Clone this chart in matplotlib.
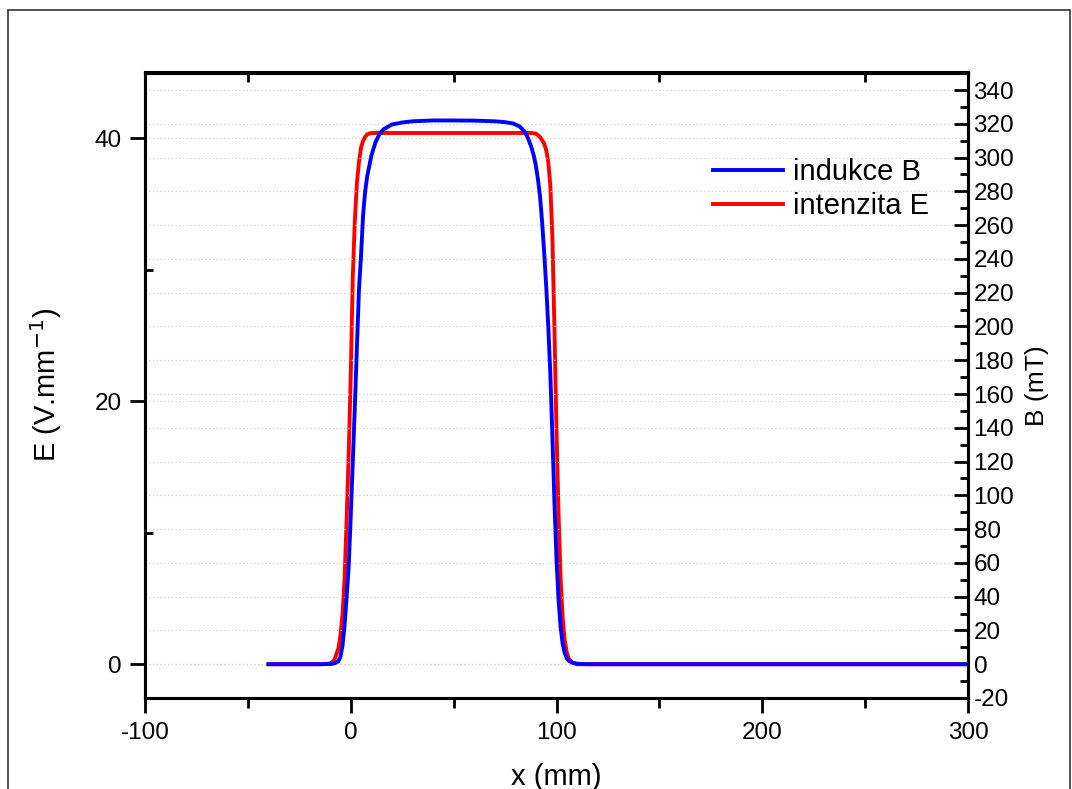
import matplotlib
matplotlib.use('Agg')
import matplotlib.pyplot as plt
from matplotlib.patches import Rectangle
from matplotlib.ticker import MultipleLocator

plt.rcParams['font.family'] = ['Liberation Sans', 'DejaVu Sans']
plt.rcParams['axes.unicode_minus'] = False

# -------------------------------------------------------------------
# DATA

# intenzita E (V/mm) vs x (mm)
x_e = [-40, -15, -10, -8, -6, -5, -4, -3, -2, -1, 0, 1, 2, 3, 4, 5, 6, 7, 8, 10,
       50, 88, 90, 92, 94, 95, 96, 97, 98, 99, 100, 101, 102, 103, 104, 105,
       106, 108, 110, 300]
e_val = [0, 0, 0.05, 0.3, 1.2, 2.2, 3.8, 6.5, 11, 16, 22, 29.5, 33.8, 36.6,
         38.2, 39.3, 39.8, 40.1, 40.3, 40.4, 40.4, 40.4, 40.35, 40.1, 39.6,
         39.1, 38.2, 36.4, 32.5, 25.5, 17.8, 11.4, 6.5, 3.5, 1.8, 0.9, 0.4,
         0.1, 0, 0]

# indukce B (mT) vs x (mm)
x_b = [-40, -15, -10, -8, -6, -5, -4, -3, -2, -1, 0, 1, 2, 3, 4, 5, 6, 7, 8, 9,
       10, 12, 14, 16, 20, 25, 30, 40, 50, 60, 70, 75, 79, 82, 84.5, 86, 87.7,
       89, 90, 91, 92, 93, 94, 95, 96, 97, 98, 99, 100, 101, 102, 103, 104,
       105, 106, 108, 110, 115, 300]
b_val = [0, 0, 0.1, 0.5, 1.8, 4.5, 11, 23, 40, 58, 88, 120, 153, 188, 222, 242,
         266, 280, 289, 295, 301, 309, 314, 316.8, 319.6, 320.8, 321.5, 322,
         322, 321.9, 321.5, 321, 320.2, 318.5, 315.4, 312, 306.5, 301, 295,
         287, 277, 262, 244, 224, 200, 172, 135, 96, 62, 38, 22, 12, 6.5, 3.5,
         2, 0.8, 0.3, 0, 0]

# -------------------------------------------------------------------
# FIGURE

fig = plt.figure(figsize=(10.72, 7.89), dpi=100)
ax = fig.add_axes([145 / 1072, 1 - 698 / 789, (968 - 145) / 1072, (698 - 72.5) / 789])
ax2 = ax.twinx()

# frame around the whole graph page (bottom edge is cut off)
fig.patches.append(Rectangle((8 / 1072, -0.1), (1070 - 8) / 1072, 1.1 - 10 / 789,
                             transform=fig.transFigure, fill=False,
                             edgecolor='#333333', linewidth=1.2))

line_e, = ax.plot(x_e, e_val, color='#ff0000', lw=2.8, label='intenzita E')
line_b, = ax2.plot(x_b, b_val, color='#0000ff', lw=2.8, label='indukce B')

ax.set_xlim(-100, 300)
# zero of both y scales on the same height
ax.set_ylim(-2.57, 45)
ax2.set_ylim(-20, 350.4)

ax.xaxis.set_major_locator(MultipleLocator(100))
ax.xaxis.set_minor_locator(MultipleLocator(50))
ax.yaxis.set_major_locator(MultipleLocator(20))
ax.yaxis.set_minor_locator(MultipleLocator(10))
ax2.yaxis.set_major_locator(MultipleLocator(20))
ax2.yaxis.set_minor_locator(MultipleLocator(10))

# dotted grid lines for both y scales
grid_kw = dict(color='#d0d0d0', linestyle=(0, (1, 2)), linewidth=0.9)
ax.grid(axis='y', which='major', **grid_kw)
ax2.grid(axis='y', which='major', **grid_kw)
ax.set_axisbelow(True)

for a in (ax, ax2):
    for s in a.spines.values():
        s.set_linewidth(2.2)

ax.tick_params(axis='x', which='major', direction='out', length=11, width=2,
               labelsize=17.5, pad=6, top=False)
ax.tick_params(axis='x', which='minor', direction='out', length=7, width=2,
               top=False)
ax.tick_params(axis='y', which='major', direction='out', length=11, width=2,
               labelsize=17.5, pad=6, right=False)
ax.tick_params(axis='y', which='minor', direction='in', length=6, width=2,
               right=False)
ax2.tick_params(axis='y', which='major', direction='in', length=10, width=2,
                labelsize=17.5, pad=4)
ax2.tick_params(axis='y', which='minor', direction='in', length=6, width=2)

# top axis: short ticks pointing inward, no labels
top = ax.secondary_xaxis('top')
top.set_xticks([-50, 50, 150, 250])
top.tick_params(direction='in', length=7, width=2, labeltop=False)
top.spines['top'].set_linewidth(2.2)

ax.set_xlabel('x (mm)', fontsize=21, labelpad=14)
ax.set_ylabel('E (V.mm$^{-1}$)', fontsize=21, labelpad=22)
ax2.set_ylabel('B (mT)', fontsize=19, labelpad=8)

ax2.legend([line_b, line_e], ['indukce B', 'intenzita E'],
           loc='upper left', bbox_to_anchor=(713 / 1072, 1 - 158 / 789),
           bbox_transform=fig.transFigure, frameon=False, fontsize=21,
           handlelength=2.4, handletextpad=0.35, labelspacing=0.2,
           borderpad=0, borderaxespad=0)

plt.savefig('out.png', dpi=100)
